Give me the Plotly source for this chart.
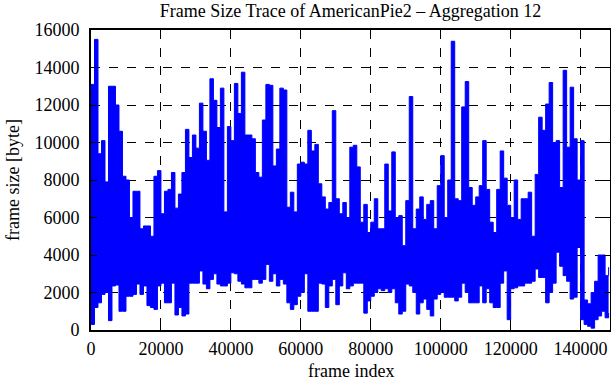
import numpy as np
import plotly.graph_objects as go

# Aggregated frame-size trace, read per 1000-frame bin: upper and lower envelope (bytes)
bin_width = 1000
peak = [13100, 15500, 9400, 10100, 7900, 13000, 13000, 12000, 10600, 8200,
        8000, 6000, 7400, 7400, 5400, 5550, 5550, 5000, 8200, 8500,
        6200, 7400, 7500, 8400, 6500, 7250, 8400, 10700, 9200, 10400,
        9700, 12100, 10600, 9050, 13400, 12250, 10800, 12900, 6300, 10850,
        10100, 13150, 11550, 13750, 10400, 10400, 10200, 8400, 8150, 11200,
        13100, 13050, 8750, 9650, 12900, 12800, 6550, 7350, 6300, 8850,
        8950, 8850, 10650, 9550, 9900, 7800, 7100, 6450, 6800, 11700,
        7000, 6200, 6800, 6000, 9750, 9850, 8700, 5750, 6700, 5200,
        5750, 7000, 5400, 5400, 8850, 6350, 9500, 6000, 6100, 4500,
        6900, 12450, 5400, 6450, 7100, 5900, 6700, 6900, 5400, 7700,
        9300, 6000, 8000, 15400, 7000, 6900, 11900, 13250, 7600, 6650,
        7100, 7700, 10100, 7500, 5750, 5200, 7500, 9550, 8100, 6650,
        6000, 8000, 5900, 7000, 7000, 7350, 5000, 8300, 11350, 10650,
        12050, 13200, 10000, 10100, 7600, 13850, 9750, 12950, 10200, 8000,
        10100, 1600, 1400, 2000, 2600, 4000, 4000, 2900, 3350]
trough = [300, 1200, 1450, 1900, 2000, 500, 2350, 2400, 1000, 1000,
          1800, 1800, 1900, 2450, 1900, 2350, 1300, 1200, 1100, 2350,
          2500, 1450, 1450, 2500, 800, 1200, 750, 850, 2500, 2500,
          2500, 3150, 2450, 2200, 2700, 3000, 2450, 2350, 2350, 2500,
          3050, 3000, 2600, 2450, 2250, 2250, 2700, 2700, 2500, 2700,
          3500, 2600, 3000, 2350, 2700, 2450, 1450, 1100, 1350, 1800,
          2000, 3000, 1000, 1000, 1000, 2500, 2450, 1200, 2350, 2700,
          1350, 2350, 3050, 2200, 2350, 2500, 2500, 2500, 900, 1550,
          1800, 2000, 2200, 2100, 2200, 2000, 2200, 1450, 850, 1000,
          2450, 2350, 2000, 850, 1450, 1650, 1100, 750, 1650, 1900,
          2000, 1750, 1750, 1750, 1550, 1750, 2500, 2000, 1450, 1450,
          1450, 2350, 1450, 2200, 1450, 1200, 1200, 2500, 3150, 550,
          2200, 2250, 2350, 2350, 2500, 2500, 2600, 3250, 2800, 2800,
          1450, 2000, 2500, 4150, 3400, 2900, 2600, 1650, 1750, 4400,
          550, 300, 200, 100, 550, 750, 1000, 650, 900]

x_max = 148400
x_ticks = [0, 20000, 40000, 60000, 80000, 100000, 120000, 140000]
y_ticks = [0, 2000, 4000, 6000, 8000, 10000, 12000, 14000, 16000]

bins = np.arange(len(peak)) * bin_width
blue = "#0000ff"

fig = go.Figure()
fig.add_trace(go.Scatter(x=bins, y=trough, mode="lines", line_shape="hv",
                         line=dict(color=blue, width=1),
                         showlegend=False, hoverinfo="skip"))
fig.add_trace(go.Scatter(x=bins, y=peak, mode="lines", line_shape="hv",
                         line=dict(color=blue, width=1), fill="tonexty",
                         fillcolor=blue, showlegend=False, hoverinfo="skip"))

font_family = "Liberation Serif, Times New Roman, serif"
fs = 18
axis_common = dict(
    showgrid=True, gridcolor="black", gridwidth=1, griddash="dash",
    showline=True, linecolor="black", linewidth=2, mirror="allticks",
    ticks="inside", ticklen=6, tickcolor="black", tickwidth=1,
    zeroline=False, automargin=False,
    tickfont=dict(family=font_family, size=fs, color="black"),
)
fig.update_xaxes(range=[0, x_max], tickvals=x_ticks,
                 ticktext=[str(v) for v in x_ticks], ticklabelstandoff=1, **axis_common)
fig.update_yaxes(range=[0, 16000], tickvals=y_ticks,
                 ticktext=[str(v) for v in y_ticks], ticklabelstandoff=6, **axis_common)

fig.update_layout(
    width=611, height=380,
    margin=dict(l=91, r=1, t=30, b=50, autoexpand=False),
    plot_bgcolor="white", paper_bgcolor="white",
    font=dict(family=font_family, size=fs, color="black"),
    title=dict(text="Frame Size Trace of AmericanPie2 – Aggregation 12",
               x=0.5, xref="paper", y=1 - 11 / 380, yref="container",
               xanchor="center", yanchor="middle",
               font=dict(family=font_family, size=fs, color="black")),
    annotations=[
        dict(text="frame index", xref="paper", yref="paper", x=0.5, y=-41 / 300,
             xanchor="center", yanchor="middle", showarrow=False,
             font=dict(family=font_family, size=fs, color="black")),
        dict(text="frame size [byte]", xref="paper", yref="paper", x=-78 / 519, y=0.5,
             xanchor="center", yanchor="middle", textangle=-90, showarrow=False,
             font=dict(family=font_family, size=fs, color="black")),
    ],
)

fig.write_html("out.html", config={"displayModeBar": False},
               post_script="document.body.style.margin='0';document.body.style.padding='0';")
